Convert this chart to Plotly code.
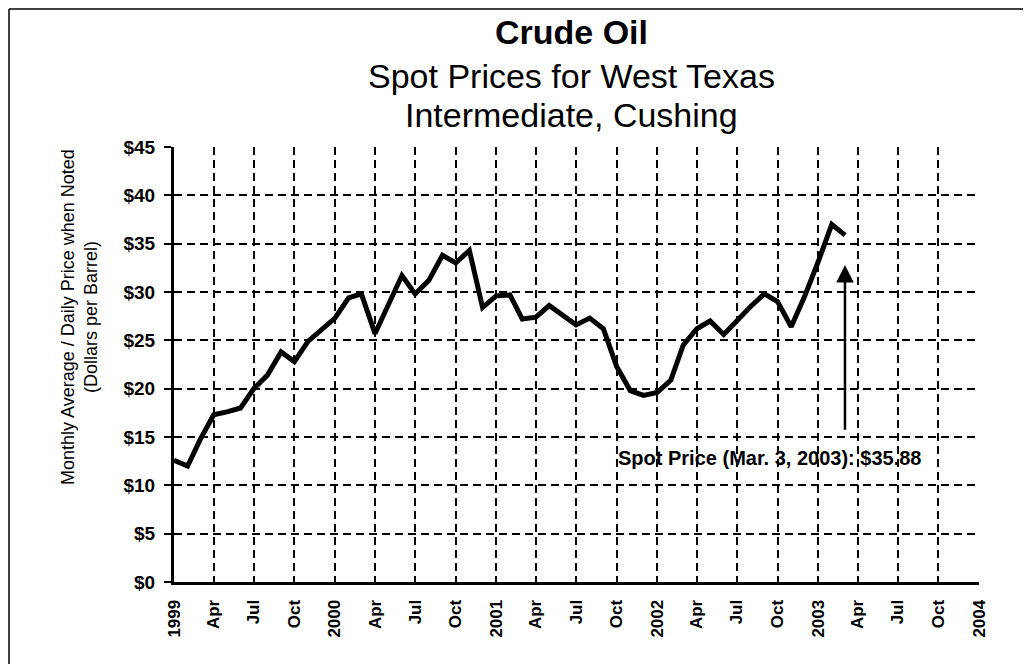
import plotly.graph_objects as go

# ---- data ----
months = [f"{y}-{m:02d}-01" for y in range(1999, 2003) for m in range(1, 13)] + ["2003-01-01", "2003-02-01", "2003-03-03"]
prices = [
    12.6, 12.0, 14.7, 17.3, 17.6, 18.0, 20.0, 21.4, 23.8, 22.8, 24.9, 26.1,   # 1999
    27.3, 29.4, 29.8, 25.7, 28.7, 31.7, 29.8, 31.2, 33.8, 33.0, 34.3, 28.4,   # 2000
    29.6, 29.7, 27.2, 27.4, 28.6, 27.6, 26.6, 27.3, 26.2, 22.3, 19.8, 19.3,   # 2001
    19.6, 20.9, 24.5, 26.2, 27.0, 25.6, 27.1, 28.5, 29.8, 29.0, 26.4, 29.5,   # 2002
    33.1, 37.0, 35.88,                                                         # 2003
]

tick_dates = [f"{y}-{m:02d}-01" for y in range(1999, 2004) for m in (1, 4, 7, 10)] + ["2004-01-01"]
tick_labels = []
for y in range(1999, 2004):
    tick_labels += [str(y), "Apr", "Jul", "Oct"]
tick_labels.append("2004")

y_ticks = list(range(0, 50, 5))
y_tick_labels = [f"${v}" for v in y_ticks]

spot_date = "2003-03-03"
spot_label = "Spot Price (Mar. 3, 2003): $35.88"

title_line1 = "Crude Oil"
title_line2 = "Spot Prices for West Texas"
title_line3 = "Intermediate, Cushing"
y_title = "Monthly Average / Daily Price when Noted<br>(Dollars per Barrel)"

FONT = "Liberation Sans, Arial, Helvetica, sans-serif"

fig = go.Figure()
fig.add_trace(go.Scatter(
    x=months, y=prices, mode="lines",
    line=dict(color="black", width=5),
    hoverinfo="skip", showlegend=False,
))

# page body has an 8px margin; figure coordinates = reference pixel - 8
OFF = 8
W, H = 1015, 656
L, T = 174 - OFF, 147 - OFF
R = W - (979 - OFF)
B = H - (582 - OFF)
pw, ph = W - L - R, H - T - B

def px_x(p):
    return (p - OFF - L) / pw

def px_y(p):
    return (H - B - (p - OFF)) / ph

fig.update_layout(
    width=W, height=H,
    margin=dict(l=L, r=R, t=T, b=B, pad=0),
    paper_bgcolor="white", plot_bgcolor="white",
    font=dict(family=FONT, color="black"),
    showlegend=False,
)

fig.update_xaxes(
    type="date",
    range=["1999-01-01", "2004-01-01"],
    tickmode="array", tickvals=tick_dates, ticktext=tick_labels,
    tickangle=-90,
    tickfont=dict(family=FONT, size=17, color="black", weight="bold"),
    ticks="inside", ticklen=4, tickwidth=2, tickcolor="black",
    ticklabelstandoff=8,
    showgrid=True, gridcolor="black", gridwidth=1.5, griddash="8px,5px",
    showline=True, linecolor="black", linewidth=3,
    zeroline=False,
)
fig.update_yaxes(
    range=[0, 45],
    tickmode="array", tickvals=y_ticks, ticktext=y_tick_labels,
    tickfont=dict(family=FONT, size=19, color="black", weight="bold"),
    ticks="outside", ticklen=7, tickwidth=2, tickcolor="black",
    ticklabelstandoff=5,
    showgrid=True, gridcolor="black", gridwidth=1.5, griddash="8px,5px",
    showline=True, linecolor="black", linewidth=3,
    zeroline=False,
)

cx = px_x(571)
fig.add_annotation(text=f"<b>{title_line1}</b>", xref="paper", yref="paper",
                   x=cx, y=px_y(32), xanchor="center", yanchor="middle",
                   showarrow=False, font=dict(size=34, family=FONT, color="black"))
fig.add_annotation(text=title_line2, xref="paper", yref="paper",
                   x=cx, y=px_y(76), xanchor="center", yanchor="middle",
                   showarrow=False, font=dict(size=34, family=FONT, color="black"))
fig.add_annotation(text=title_line3, xref="paper", yref="paper",
                   x=cx, y=px_y(115), xanchor="center", yanchor="middle",
                   showarrow=False, font=dict(size=34, family=FONT, color="black"))

fig.add_annotation(text=y_title, xref="paper", yref="paper",
                   x=px_x(79), y=px_y(317), xanchor="center", yanchor="middle",
                   textangle=-90, showarrow=False,
                   font=dict(size=18, family=FONT, color="black"))

# arrow
fig.add_annotation(x=spot_date, y=32.8, xref="x", yref="y",
                   ax=spot_date, ay=15.6, axref="x", ayref="y",
                   showarrow=True, arrowhead=2, arrowsize=1.4, arrowwidth=2.5,
                   arrowcolor="black", text="")
fig.add_annotation(text=f"<b>{spot_label}</b>", xref="paper", yref="y",
                   x=px_x(770), y=12.8, xanchor="center", yanchor="middle",
                   showarrow=False, font=dict(size=20, family=FONT, color="black"))

# outer frame lines (left and top), as close to the page corner as the canvas allows
fig.add_shape(type="line", xref="paper", yref="paper",
              x0=px_x(9), x1=px_x(9), y0=px_y(9), y1=px_y(672),
              line=dict(color="black", width=1.5))
fig.add_shape(type="line", xref="paper", yref="paper",
              x0=px_x(9), x1=px_x(1023), y0=px_y(9), y1=px_y(9),
              line=dict(color="black", width=1.5))

fig.write_html("out.html")
